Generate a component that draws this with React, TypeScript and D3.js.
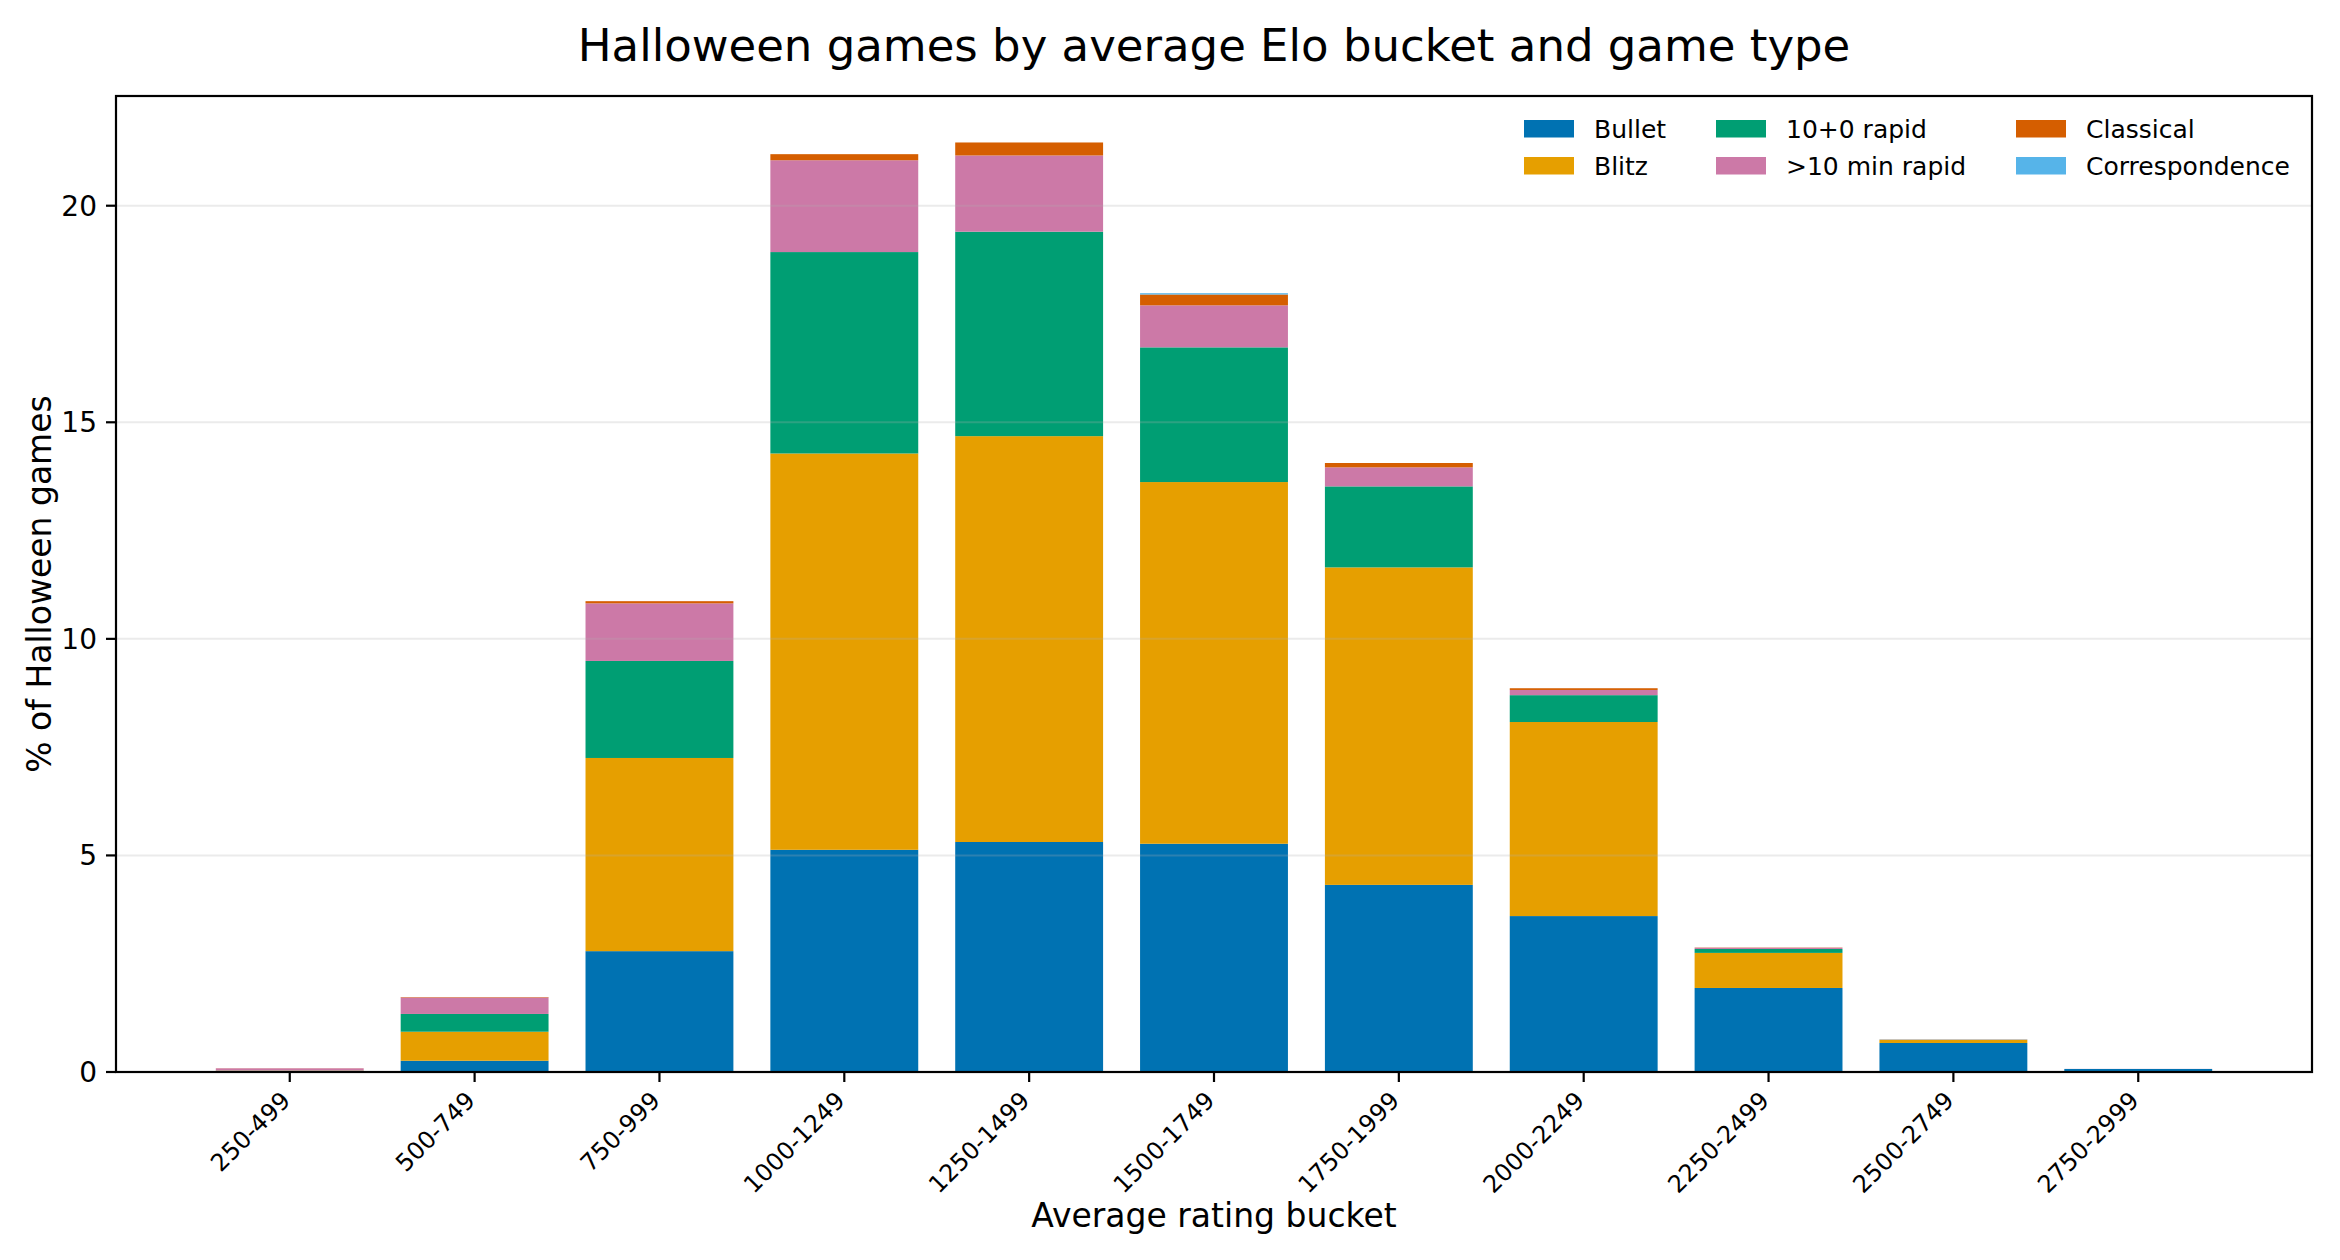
import { useMemo } from "react";
import * as d3 from "d3";

const WIDTH = 2340;
const HEIGHT = 1260;
const MARGIN = { top: 96, right: 28, bottom: 188, left: 116 };
const FONT = "DejaVu Sans, Verdana, sans-serif";

const buckets = [
    "250-499",
    "500-749",
    "750-999",
    "1000-1249",
    "1250-1499",
    "1500-1749",
    "1750-1999",
    "2000-2249",
    "2250-2499",
    "2500-2749",
    "2750-2999",
];
const bullet = [0.01, 0.26, 2.79, 5.13, 5.31, 5.27, 4.32, 3.6, 1.94, 0.67, 0.07];
const blitz = [0.02, 0.67, 4.46, 9.15, 9.37, 8.35, 7.33, 4.48, 0.81, 0.07, 0.0];
const rapid10 = [0.005, 0.41, 2.24, 4.65, 4.72, 3.11, 1.87, 0.62, 0.09, 0.005, 0.0];
const rapidLong = [0.05, 0.38, 1.33, 2.12, 1.76, 0.97, 0.44, 0.12, 0.03, 0.005, 0.002];
const classical = [0.002, 0.01, 0.05, 0.14, 0.3, 0.25, 0.1, 0.04, 0.005, 0.002, 0.0];
const correspondence = [0.0, 0.0, 0.0, 0.0, 0.0, 0.03, 0.0, 0.0, 0.0, 0.0, 0.0];

const seriesNames = ["Bullet", "Blitz", "10+0 rapid", ">10 min rapid", "Classical", "Correspondence"];
const seriesColors = ["#0072B2", "#E69F00", "#009E73", "#CC79A7", "#D55E00", "#56B4E9"];
const yTicks = [0, 5, 10, 15, 20];

interface Row {
    bucket: string;
    [key: string]: number | string;
}

function App() {
    const boundsWidth = WIDTH - MARGIN.left - MARGIN.right;
    const boundsHeight = HEIGHT - MARGIN.top - MARGIN.bottom;

    const rows: Row[] = buckets.map((b, i) => ({
        bucket: b,
        Bullet: bullet[i],
        Blitz: blitz[i],
        "10+0 rapid": rapid10[i],
        ">10 min rapid": rapidLong[i],
        Classical: classical[i],
        Correspondence: correspondence[i],
    }));

    const stacked = useMemo(
        () => d3.stack<Row>().keys(seriesNames).value((d, k) => d[k] as number)(rows),
        []
    );

    const maxTotal = d3.max(stacked[stacked.length - 1], (d) => d[1]) || 0;

    // bar width 0.8, matplotlib-like 5% margins
    const xScale = d3
        .scaleBand<string>()
        .domain(buckets)
        .range([0, boundsWidth])
        .paddingInner(0.2)
        .paddingOuter(0.54);

    const yScale = d3
        .scaleLinear()
        .domain([0, maxTotal * 1.05])
        .range([boundsHeight, 0]);

    const legendCols = [
        { x: 1524, items: [0, 1] },
        { x: 1716, items: [2, 3] },
        { x: 2016, items: [4, 5] },
    ];
    const legendRowsY = [120, 157];

    return (
        <div style={{ position: "absolute", left: 0, top: 0 }}>
            <svg width={WIDTH} height={HEIGHT} style={{ display: "block", background: "#fff" }} fontFamily={FONT}>
                <text x={MARGIN.left + boundsWidth / 2} y={61} textAnchor="middle" fontSize={45} fill="#000">
                    Halloween games by average Elo bucket and game type
                </text>
                <g transform={`translate(${MARGIN.left},${MARGIN.top})`}>
                    {/* Bars */}
                    {stacked.map((layer, si) => (
                        <g key={layer.key} fill={seriesColors[si]}>
                            {layer.map((d, i) => {
                                const h = yScale(d[0]) - yScale(d[1]);
                                if (h <= 0) return null;
                                return (
                                    <rect
                                        key={i}
                                        x={xScale(buckets[i])}
                                        y={yScale(d[1])}
                                        width={xScale.bandwidth()}
                                        height={h}
                                    />
                                );
                            })}
                        </g>
                    ))}
                    {/* Grid on top, faint */}
                    {yTicks.map((t) => (
                        <line
                            key={t}
                            x1={0}
                            x2={boundsWidth}
                            y1={yScale(t)}
                            y2={yScale(t)}
                            stroke="#b0b0b0"
                            strokeOpacity={0.25}
                            strokeWidth={2}
                        />
                    ))}
                    {/* Spines */}
                    <rect x={0} y={0} width={boundsWidth} height={boundsHeight} fill="none" stroke="#000" strokeWidth={2.2} />
                    {/* Y axis */}
                    {yTicks.map((t) => (
                        <g key={t} transform={`translate(0,${yScale(t)})`}>
                            <line x1={-10} x2={0} stroke="#000" strokeWidth={2.2} />
                            <text x={-19} dy="0.35em" textAnchor="end" fontSize={28} fill="#000">
                                {t}
                            </text>
                        </g>
                    ))}
                    {/* X axis */}
                    {buckets.map((b) => {
                        const cx = (xScale(b) || 0) + xScale.bandwidth() / 2;
                        return (
                            <g key={b} transform={`translate(${cx},${boundsHeight})`}>
                                <line y1={0} y2={10} stroke="#000" strokeWidth={2.2} />
                                <text
                                    transform={`translate(2,30) rotate(-45)`}
                                    textAnchor="end"
                                    fontSize={24}
                                    fill="#000"
                                >
                                    {b}
                                </text>
                            </g>
                        );
                    })}
                </g>
                <text
                    x={MARGIN.left + boundsWidth / 2}
                    y={1227}
                    textAnchor="middle"
                    fontSize={33}
                    fill="#000"
                >
                    Average rating bucket
                </text>
                <text
                    transform={`translate(51,${MARGIN.top + boundsHeight / 2}) rotate(-90)`}
                    textAnchor="middle"
                    fontSize={33}
                    fill="#000"
                >
                    % of Halloween games
                </text>
                {/* Legend */}
                {legendCols.map((col) =>
                    col.items.map((si, ri) => (
                        <g key={si} transform={`translate(${col.x},${legendRowsY[ri]})`}>
                            <rect width={50} height={17.5} fill={seriesColors[si]} />
                            <text x={70} y={17.5} fontSize={25} fill="#000">
                                {seriesNames[si]}
                            </text>
                        </g>
                    ))
                )}
            </svg>
        </div>
    );
}

export default App;
